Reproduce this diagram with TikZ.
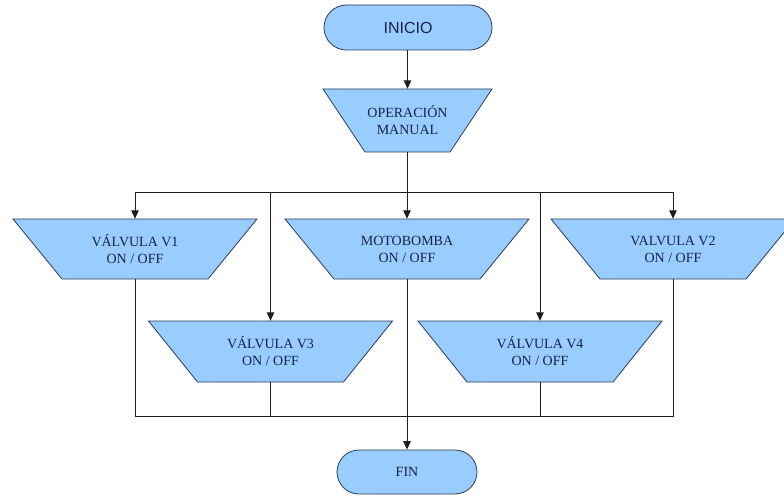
\documentclass[tikz,border=0pt]{standalone}
\usepackage{fontspec}
\setmainfont{Liberation Serif}
\newfontfamily\arialfont{Liberation Sans}
\usetikzlibrary{shapes.misc,arrows.meta}
\definecolor{boxfill}{RGB}{153,204,255}
\definecolor{boxedge}{RGB}{45,60,85}
\definecolor{boxtext}{RGB}{25,35,65}
\definecolor{wire}{RGB}{30,30,30}
\tikzset{
  trapshape/.style={fill=boxfill, draw=boxedge, line width=0.8pt, line join=miter},
  traptext/.style={rectangle, minimum width=#1, minimum height=60pt, inner sep=0pt,
    text=boxtext, align=center, font=\fontsize{14}{17}\selectfont},
  traptext/.default=244pt,
  term/.style={rounded rectangle, fill=boxfill, draw=boxedge, line width=0.8pt,
    text=boxtext, inner sep=0pt},
  conn/.style={draw=wire, line width=1pt},
  arr/.style={conn, -{Triangle[length=8.5pt,width=7.5pt]}}
}
% #1 name, #2 x, #3 y, #4 half top width, #5 side inset, #6 height, #7 text
\newcommand\trapbox[7]{%
  \fill[trapshape] (#2-#4,#3-#6/2) -- (#2+#4,#3-#6/2) -- (#2+#4-#5,#3+#6/2) -- (#2-#4+#5,#3+#6/2) -- cycle;
  \node[traptext=2*#4, minimum height=#6] (#1) at (#2,#3) {#7};%
}
\begin{document}
\begin{tikzpicture}[x=1pt,y=-1pt]
\clip (0,0) rectangle (784,497);
\fill[white] (0,0) rectangle (784,497);
% terminals
\node[term, minimum width=168pt, minimum height=45pt, font=\arialfont\fontsize{16}{19}\selectfont] (inicio) at (408,27.5) {INICIO};
\node[term, minimum width=140pt, minimum height=44pt, font=\fontsize{14}{17}\selectfont] (fin) at (407,472) {FIN};
% operation
\trapbox{op}{407.5}{120.5}{84.5}{42}{63}{OPERACIÓN\\MANUAL}
% row 1
\trapbox{v1}{135}{249}{122}{49}{60}{VÁLVULA V1\\ON / OFF}
\trapbox{moto}{407}{249}{122}{49}{60}{MOTOBOMBA\\ON / OFF}
\trapbox{v2}{673}{249}{122}{49}{60}{VALVULA V2\\ON / OFF}
% row 2
\trapbox{v3}{270.5}{351.5}{122}{49}{61}{VÁLVULA V3\\ON / OFF}
\trapbox{v4}{540}{351.5}{122}{49}{61}{VÁLVULA V4\\ON / OFF}
% coordinates
\coordinate (split) at (407,193);
\coordinate (join) at (407,416);
% connectors
\draw[arr] (inicio.south -| op.north) -- (op.north);
\draw[conn] (op.south -| split) -- (split);
\draw[arr] (split) -- (moto.north);
\draw[arr] (split) -| (v1.north);
\draw[arr] (split) -| (v2.north);
\draw[arr] (split) -| (v3.north);
\draw[arr] (split) -| (v4.north);
\draw[conn] (v1.south) |- (join);
\draw[conn] (v2.south) |- (join);
\draw[conn] (v3.south) |- (join);
\draw[conn] (v4.south) |- (join);
\draw[arr] (moto.south) -- (fin.north);
\end{tikzpicture}
\end{document}
